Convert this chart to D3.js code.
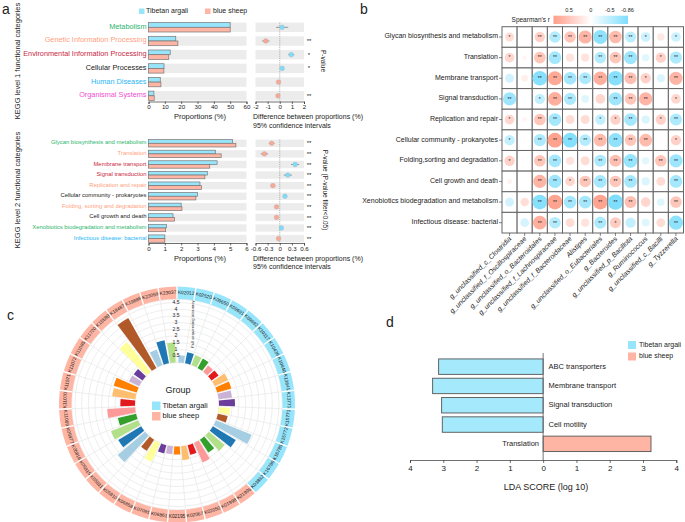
<!DOCTYPE html>
<html><head><meta charset="utf-8">
<script src="https://cdn.jsdelivr.net/npm/d3@7"></script>
<style>html,body{margin:0;padding:0;background:#fff}svg{display:block}text{font-family:"Liberation Sans",Arial,sans-serif;fill:#222}
.ax path,.ax line{stroke:#333;stroke-width:.7}.ax text{font-size:6.2px;fill:#222}</style></head><body>
<svg id="c" width="685" height="522"></svg>
<script>
// ---- data ----
const groups=["Tibetan argali","blue sheep"];
const kegg1=["Metabolism","Genetic Information Processing","Environmental Information Processing","Cellular Processes","Human Diseases","Organismal Systems"];
const kegg1Colors=["#2db56e","#ff9f80","#c9283e","#222222","#29b6f6","#f04fd0"];
const kegg1A=[50,16.7,13.3,9.5,7.2,3.3];
const kegg1B=[50,18,12.4,9.4,7.6,3.5];
const kegg1Diff=[0.2,-1.15,0.95,0.2,-0.1,-0.15];
const kegg1Err=[0.5,0.3,0.25,0.1,0.05,0.05];
const kegg1Sig=["","**","*","*","","**"];
const kegg2=["Glycan biosynthesis and metabolism","Translation","Membrane transport","Signal transduction","Replication and repair","Cellular community - prokaryotes","Folding, sorting and degradation","Cell growth and death","Xenobiotics biodegradation and metabolism","Infectious disease: bacterial"];
const kegg2Colors=["#2db56e","#ff9f80","#c9283e","#c9283e","#ff9f80","#222222","#ff9f80","#222222","#2db56e","#29b6f6"];
const kegg2A=[5.15,4.1,4.2,3.6,3.15,3.0,2.0,1.5,1.1,1.0];
const kegg2B=[5.35,4.45,3.75,3.45,3.25,2.9,2.05,1.6,1.05,1.0];
const kegg2Diff=[-0.2,-0.38,0.38,0.2,-0.17,0.13,-0.08,-0.08,0.04,-0.03];
const kegg2Err=[0.07,0.09,0.1,0.1,0.06,0.03,0.03,0.03,0.03,0.02];
const heatRows=["Glycan biosynthesis and metabolism","Translation","Membrane transport","Signal transduction","Replication and repair","Cellular community - prokaryotes","Folding,sorting and degradation","Cell growth and death","Xenobiotics biodegradation and metabolism","Infectious disease: bacterial"];
const heatCols=["g_unclassified_c_Clostridia","g_unclassified_f_Oscillospiraceae","g_unclassified_o_Bacteroidales","g_unclassified_f_Lachnospiraceae","g_unclassified_f_Bacteroidaceae","Alistipes","g_unclassified_o_Eubacteriales","g_Bacteroides","g_unclassified_p_Bacillota","g_Ruminococcus","g_unclassified_c_Bacilli","g_Tyzzerella"];
const heatR=[
[.3,-.02,.4,-.5,.5,.65,-.75,.6,-.45,-.35,.2,-.35],
[.35,.08,.5,-.6,.25,.25,-.5,.5,-.65,-.2,.4,-.55],
[-.3,.15,-.8,.75,-.6,-.55,.7,-.8,.55,.4,-.25,.65],
[-.65,-.02,-.4,.7,-.55,-.22,.35,-.65,.5,.65,0,.35],
[.35,.08,.5,-.6,.3,.3,-.4,.4,-.6,-.25,.4,-.55],
[-.4,.03,-.55,.82,-.82,-.5,.6,-.75,.5,.6,0,.4],
[.4,.03,.5,-.6,.25,.3,-.55,.55,-.7,-.2,.5,-.65],
[.1,.02,.65,-.65,.35,.5,-.6,.5,-.6,-.25,.3,-.6],
[-.3,.28,-.8,.8,-.6,-.6,.8,-.86,.55,.35,-.22,.5],
[.01,-.28,.7,-.5,.3,.25,-.55,.45,-.4,-.22,.3,-.75]];
const heatStars=[
["*","","**","**","**","**","**","**","**","*","","*"],
["*","","**","**","","","**","**","**","","*","**"],
["","","**","**","**","**","**","**","**","*","","**"],
["**","","*","**","**","","","**","**","**","","*"],
["*","","**","**","","","*","*","**","","*","**"],
["*","","**","**","**","**","**","**","**","**","","*"],
["*","","**","**","","","**","**","**","","**","**"],
["","","**","**","*","**","**","**","**","","","**"],
["","","**","**","**","**","**","**","**","","","**"],
["","","**","**","","","**","*","","","","**"]];
const legendTicks=[0.5,0,-0.5,-0.86];
const koLabels=["K02012","K02520","K09650","K09691","K09692","K10117","K10439","K10440","K13641","K13771","K15771","K15772","K16785","K16786","K03892","K01996","K01998","K02050","K02067","K02195","K06861","K07091","K06858","K05810","K05811","K05815","K05816","K05977","K11069","K11070","K11571","K11072","K11085","K11720","K15580","K18487","K19888","K23059","K23037"];
const koValues=[.55,.85,.8,.8,.6,.65,1.1,1.1,1.0,1.2,.85,.75,2.9,2.0,1.55,1.15,1.6,.75,1.05,.6,.6,.65,1.55,1.0,2.7,2.0,2.2,1.4,2.1,1.1,1.75,1.8,.85,.8,2.85,4.3,1.25,1.75,1.5];
const koBlueCount=15;
const radialTicks=[.5,1,1.5,2,2.5,3,3.5,4,4.5];
const ldaNames=["ABC transporters","Membrane transport","Signal transduction","Cell motility","Translation"];
const ldaValues=[-3.14,-3.32,-3.05,-3.03,3.24];
// ---- drawing ----
const CY="#97e5fb",SA="#ffb5a3",svg=d3.select("#c");
function txt(x,y,s,size,o={}){const t=svg.append("text").attr("x",x).attr("y",y).attr("font-size",size).attr("dominant-baseline","middle").attr("text-anchor",o.a||"start").text(s);
 if(o.c)t.style("fill",o.c);if(o.r!=null)t.attr("transform",`rotate(${o.r},${x},${y})`);if(o.i)t.attr("font-style","italic");return t;}
[["a",2,10],["b",360,10],["c",7,316],["d",386,323]].forEach(d=>txt(d[1],d[2],d[0],14));
function legendRow(x,y,w,h,c,s,fs,tx){svg.append("rect").attr("x",x).attr("y",y).attr("width",w).attr("height",h).attr("fill",c);txt(tx,y+h/2,s,fs);}
legendRow(139,8.5,5.5,5.5,CY,groups[0],7,146);legendRow(205,8.5,5.5,5.5,SA,groups[1],7,213);
function panelA(o){
 const y=d3.scalePoint().domain(o.names).range(o.yr),x=d3.scaleLinear().domain(o.xd).range([148.5,246.5]),dx=d3.scaleLinear().domain(o.dd).range([255.5,304]);
 const h=o.h,G=svg.append("g");
 o.names.forEach((n,i)=>{const c=y(n);
  G.append("rect").attr("x",148.5).attr("y",c-h/2).attr("width",98).attr("height",h).attr("fill","#ececec");
  G.append("rect").attr("x",255.5).attr("y",c-h/2).attr("width",48.5).attr("height",h).attr("fill","#ececec");
  [[o.a[i],c-h/2,CY],[o.b[i],c,SA]].forEach(b=>G.append("rect").attr("x",x(0)).attr("y",b[1]).attr("width",x(b[0])-x(0)).attr("height",h/2).attr("fill",b[2]).attr("stroke","#777").attr("stroke-width",.7));
  txt(146.5,c-.5,n,o.fs,{a:"end",c:o.colors[i]});
 });
 G.append("line").attr("x1",dx(0)).attr("x2",dx(0)).attr("y1",o.yr[0]-h/2).attr("y2",o.yr[1]+h/2).attr("stroke","#888").attr("stroke-width",.6).attr("stroke-dasharray","1.2,1");
 o.names.forEach((n,i)=>{const c=y(n);
  G.append("line").attr("x1",dx(o.diff[i]-o.err[i])).attr("x2",dx(o.diff[i]+o.err[i])).attr("y1",c).attr("y2",c).attr("stroke","#555").attr("stroke-width",.6);
  G.append("circle").attr("cx",dx(o.diff[i])).attr("cy",c).attr("r",2.4).attr("fill",o.diff[i]>0?"#7fdcf9":"#f7a994").attr("stroke","#aaa").attr("stroke-width",.3);
  if(o.sig[i])txt(309,c+.5,o.sig[i],6,{a:"middle"});
 });
 svg.append("g").attr("class","ax").attr("transform",`translate(0,${o.axisY})`).call(d3.axisBottom(x).tickValues(o.xt).tickSize(2.5).tickPadding(1).tickFormat(d3.format("d")));
 svg.append("g").attr("class","ax").attr("transform",`translate(0,${o.axisY})`).call(d3.axisBottom(dx).tickValues(o.dt).tickSize(2.5).tickPadding(1).tickFormat(d=>d===0?"0":String(d)));
 txt(200,o.axisY+16,"Proportions (%)",7.5,{a:"middle"});
 txt(253,o.axisY+16,"Difference between proportions (%)",7);
 txt(253,o.axisY+24.5,"95% confidence intervals",7);
 txt(18,o.titleY,o.title,7.5,{a:"middle",r:-90});
 txt(o.px,o.titleY,o.pt,6.5,{a:"middle",r:90});
}
panelA({names:kegg1,colors:kegg1Colors,a:kegg1A,b:kegg1B,diff:kegg1Diff,err:kegg1Err,sig:kegg1Sig,yr:[27.3,95.8],h:9.4,xd:[0,60],dd:[-2,2],xt:[0,10,20,30,40,50,60],dt:[-2,-1,0,1,2],axisY:101.5,fs:7.3,title:"KEGG level 1 functional categories",titleY:61,pt:"P-value",px:323});
panelA({names:kegg2,colors:kegg2Colors,a:kegg2A,b:kegg2B,diff:kegg2Diff,err:kegg2Err,sig:kegg2.map(()=>"**"),yr:[143.3,238.6],h:7.4,xd:[0,6],dd:[-.6,.6],xt:[0,1,2,3,4,5,6],dt:[-.6,-.3,0,.3,.6],axisY:243,fs:5.9,title:"KEGG level 2 functional categories",titleY:190,pt:"P-value (P-value filter<0.05)",px:325});
// panel b
const hx=d3.scaleBand().domain(heatCols).range([502,683.5]),hy=d3.scaleBand().domain(heatRows).range([26.7,233]);
const hc=d3.scaleLinear().domain([-.86,0,.86]).range(["#7edefc","#ffffff","#ff9d88"]),hr=d3.scaleSqrt().domain([0,.86]).range([0,7.6]);
heatRows.forEach((rn,ri)=>{
 heatCols.forEach((cn,ci)=>{const cx=hx(cn)+hx.bandwidth()/2,cy=hy(rn)+hy.bandwidth()/2,v=heatR[ri][ci];
  svg.append("rect").attr("x",hx(cn)).attr("y",hy(rn)).attr("width",hx.bandwidth()).attr("height",hy.bandwidth()).attr("fill","#fff").attr("stroke","#666").attr("stroke-width",1);
  svg.append("circle").attr("cx",cx).attr("cy",cy).attr("r",hr(Math.abs(v))).attr("fill",hc(v));
  if(heatStars[ri][ci])txt(cx,cy+.5,heatStars[ri][ci],5,{a:"middle"});
 });
 const cy=hy(rn)+hy.bandwidth()/2;
 svg.append("line").attr("x1",499).attr("x2",502).attr("y1",cy).attr("y2",cy).attr("stroke","#333").attr("stroke-width",.6);
 txt(498,cy-.5,rn,7,{a:"end"});
});
heatCols.forEach(cn=>{const cx=hx(cn)+hx.bandwidth()/2;
 svg.append("line").attr("x1",cx).attr("x2",cx).attr("y1",233).attr("y2",236).attr("stroke","#333").attr("stroke-width",.6);
 svg.append("text").attr("transform",`translate(${cx+1},${238}) rotate(-45)`).attr("text-anchor","end").attr("font-size",7).attr("font-style","italic").attr("dominant-baseline","middle").text(cn);
});
const lx=d3.scaleLinear().domain([.86,-.86]).range([553.5,628]);
const gr=svg.append("defs").append("linearGradient").attr("id","lg");
[[0,.86],[.5,0],[1,-.86]].forEach(s=>gr.append("stop").attr("offset",s[0]).attr("stop-color",hc(s[1])));
svg.append("rect").attr("x",553.5).attr("y",15.7).attr("width",74.5).attr("height",8.3).attr("fill","url(#lg)");
legendTicks.forEach(t=>txt(t===-.86?lx(t)-.5:t===-.5?lx(t)-2.5:lx(t),10.5,String(t),5.5,{a:"middle"}));
txt(550,20,"Spearman's r",6.5,{a:"end"});
// panel c
const Cx=177,Cy=404.5,N=koLabels.length;
const ang=d3.scaleBand().domain(d3.range(N)).range([0,2*Math.PI]).padding(.2);
const seg=d3.scaleBand().domain(d3.range(N)).range([0,2*Math.PI]);
const rad=d3.scaleLinear().domain([0,4.5]).range([42,102]);
const pal=d3.schemePaired;
const C=svg.append("g").attr("transform",`translate(${Cx},${Cy})`);
[0].concat(radialTicks,[4.75]).forEach(t=>C.append("circle").attr("r",rad(t)).attr("fill","none").attr("stroke","#e6e6e6").attr("stroke-width",.7));
d3.range(N).forEach(i=>{const a=seg(i);C.append("line").attr("x1",rad(0)*Math.sin(a)).attr("y1",-rad(0)*Math.cos(a)).attr("x2",rad(4.75)*Math.sin(a)).attr("y2",-rad(4.75)*Math.cos(a)).attr("stroke","#e6e6e6").attr("stroke-width",.7);});
const arc=d3.arc();
koValues.forEach((v,i)=>{
 C.append("path").attr("d",arc({innerRadius:rad(0),outerRadius:rad(v),startAngle:ang(i),endAngle:ang(i)+ang.bandwidth()})).attr("fill",pal[i%12]);
 C.append("path").attr("d",arc({innerRadius:105.5,outerRadius:118,startAngle:seg(i)+.006,endAngle:seg(i)+seg.bandwidth()-.006})).attr("fill",i<koBlueCount?CY:SA);
 const m=(seg(i)+seg.bandwidth()/2)*180/Math.PI,flip=m>90&&m<270;
 C.append("text").attr("transform",`rotate(${m}) translate(0,-111.8) rotate(${flip?180:0})`).attr("text-anchor","middle").attr("dominant-baseline","middle").attr("font-size",4.8).text(koLabels[i]);
});
radialTicks.forEach(t=>C.append("text").attr("x",0).attr("y",-rad(t)).attr("text-anchor","middle").attr("dominant-baseline","middle").attr("font-size",5).attr("dx",-1).text(t));
txt(192.5,324,"Full sequencing accuracy",4.2,{a:"middle",r:-90});
txt(178,391,"Group",9,{a:"middle"});
legendRow(152,401.5,8.5,8.5,CY,groups[0],7.5,162.5);legendRow(152,412,8.5,8.5,SA,groups[1],7.5,162.5);
// panel d
const lda=d3.scaleLinear().domain([-4,4]).range([410,676.3]);
const ly=d3.scaleBand().domain(ldaNames).range([357,453.5]).paddingInner(.2).paddingOuter(.1);
ldaNames.forEach((n,i)=>{const v=ldaValues[i],c=ly(n)+ly.bandwidth()/2;
 svg.append("rect").attr("x",lda(Math.min(v,0))).attr("y",ly(n)).attr("width",Math.abs(lda(v)-lda(0))).attr("height",ly.bandwidth()).attr("fill",v<0?"#a4e9fc":SA).attr("stroke","#555").attr("stroke-width",.9);
 if(v<0)txt(548.5,c,n,7.5);else txt(539,c,n,7.5,{a:"end"});
});
svg.append("line").attr("x1",lda(0)).attr("x2",lda(0)).attr("y1",353).attr("y2",460).attr("stroke","#666").attr("stroke-width",.9);
const dax=svg.append("g").attr("class","ax").attr("transform","translate(0,460)").call(d3.axisBottom(lda).tickValues([-4,-3,-2,-1,0,1,2,3,4]).tickSize(3).tickPadding(2).tickFormat(d=>Math.abs(d)));
dax.selectAll("text").style("font-size","8px");
txt(546,488,"LDA SCORE (log 10)",9,{a:"middle"});
legendRow(628,341,8,8,CY,groups[0],7,639);legendRow(628,352.5,8,8,SA,groups[1],7,639);
</script></body></html>
